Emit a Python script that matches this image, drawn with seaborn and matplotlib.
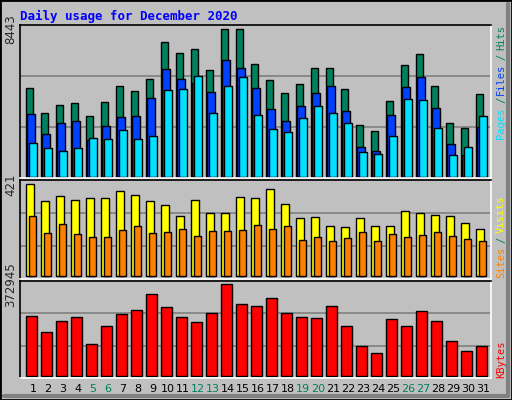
import numpy as np
import matplotlib
matplotlib.use("Agg")
import matplotlib.pyplot as plt
import seaborn as sns

days = list(range(1, 32))
hits = [5062,3629,4088,4202,3457,4260,5176,4890,5578,7698,7068,7297,6093,8443,8443,6437,
        5520,4775,5291,6208,6208,5004,2941,2598,4317,6380,7010,5176,3056,2770,4718]
files = [3572,2426,3056,3190,2101,2884,3400,3457,4489,6150,5577,5348,4832,6666,6208,5062,
         3858,3171,4030,4775,5176,3744,1681,1452,3514,5119,5692,3916,1853,1222,2827]
pages = [1910,1624,1452,1624,2197,2139,2655,2139,2311,4947,5004,5749,3629,5176,5692,3514,
         2712,2540,3343,4030,3629,3056,1394,1280,2311,4431,4374,2770,1222,1681,3457]
visits = [421,343,366,348,357,357,389,371,343,325,275,348,288,288,361,357,
          398,329,265,270,229,224,265,229,229,297,288,279,275,242,215]
sites = [275,197,238,192,178,178,210,229,197,201,215,183,206,206,210,233,
         215,229,165,178,160,174,201,160,192,178,188,201,183,169,160]
kbytes = [242276,176940,221860,238193,127952,201441,250443,266777,332113,279028,238193,217776,
          254527,372945,291278,283111,315780,254527,238193,234110,283111,201441,119785,91197,
          230026,201441,262694,221860,140202,99364,119785]
weekend = [5, 6, 12, 13, 19, 20, 26, 27]
title = "Daily usage for December 2020"

sns.set_style("white")
W, H = 512, 400
fig = plt.figure(figsize=(W/100, H/100), dpi=100)
fig.patch.set_facecolor("#C0C0C0")
BG = "#C0C0C0"
x = np.array(days, dtype=float)

def axes_px(x0, y0, x1, y1):
    return fig.add_axes([x0/W, 1-y1/H, (x1-x0)/W, (y1-y0)/H])

def style(ax, ylim, grid, top_label):
    ax.set_facecolor(BG)
    ax.set_xlim(0.6, 32.0)
    ax.set_ylim(*ylim)
    for g in grid:
        ax.axhline(g, color="#808080", lw=1.2, zorder=0)
    ax.set_xticks([])
    ax.set_yticks([top_label])
    ax.set_yticklabels([str(top_label)], rotation=90, va="center", fontsize=8.5,
                       family="DejaVu Sans")
    ax.tick_params(axis="y", length=0, pad=2)
    for s in ax.spines.values():
        s.set_color("black"); s.set_linewidth(1.2)
    ax.spines["right"].set_color("white"); ax.spines["bottom"].set_color("white")

kw = dict(edgecolor="black", linewidth=1, align="edge")
ax1 = axes_px(20, 25, 491, 178)
style(ax1, (-75, 8690), [8443*0.34, 8443*0.685], 8443)
ax1.bar(x, hits, width=0.47, color="#00805C", **kw)
ax1.bar(x+0.07, files, width=0.53, color="#0040FF", **kw)
ax1.bar(x+0.2, pages, width=0.53, color="#00E0FF", **kw)

ax2 = axes_px(20, 180, 491, 279)
style(ax2, (-12, 441), [137, 288], 421)
ax2.bar(x, visits, width=0.53, color="#FFFF00", **kw)
ax2.bar(x+0.22, sites, width=0.47, color="#FF8000", **kw)

ax3 = axes_px(20, 281, 491, 378)
style(ax3, (-9400, 386400), [119785, 254527], 372945)
ax3.bar(x, kbytes, width=0.71, color="#FF0000", **kw)
for d in days:
    ax3.text(d+0.47, -0.11, str(d), transform=ax3.get_xaxis_transform(), ha="center", va="center",
             fontsize=8, color="#00805C" if d in weekend else "black")

fig.text(20/W, 1-16/H, title, color="#0000FF", fontsize=9, fontweight="bold",
         family="DejaVu Sans Mono", va="center", ha="left")

def side(parts, xpx):
    for txt, col, y0, y1 in parts:
        fig.text(xpx/W, 1-(y0+y1)/2/H, txt, color=col, rotation=90, fontsize=7.5,
                 family="DejaVu Sans Mono", ha="center", va="center")
side([("Pages", "#00E0FF", 139, 107), ("/", "#00805C", 100, 100), ("Files", "#0040FF", 94, 64),
      ("/", "#00805C", 57, 57), ("Hits", "#00805C", 48, 28)], 501)
side([("Sites", "#FF8000", 277, 247), ("/", "#00805C", 240, 240), ("Visits", "#FFFF00", 230, 198)], 501)
side([("KBytes", "#FF0000", 377, 342)], 501)

fig.add_artist(plt.Rectangle((0, 0), 1, 1, transform=fig.transFigure, fill=False,
                             edgecolor="black", lw=2))
fig.add_artist(plt.Line2D([4/W, 508/W], [4/H, 4/H], transform=fig.transFigure, color="#808080", lw=3))
fig.add_artist(plt.Line2D([508/W, 508/W], [4/H, 396/H], transform=fig.transFigure, color="#808080", lw=3))

fig.savefig("out.png", dpi=100, facecolor=fig.get_facecolor())
